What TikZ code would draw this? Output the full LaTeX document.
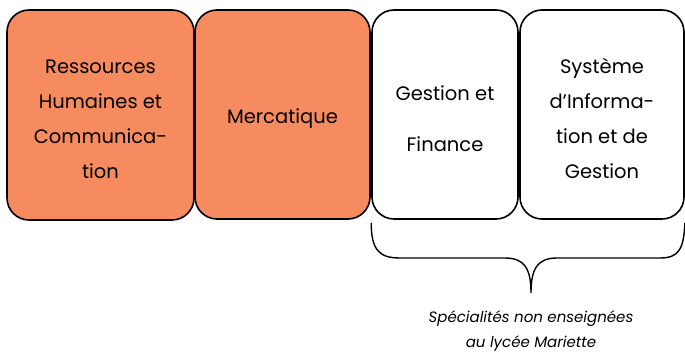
\documentclass[tikz,border=0pt]{standalone}
\usepackage{fontspec}
\setmainfont{Poppins}
\definecolor{specorange}{RGB}{246,139,95}
\tikzset{
  specbox/.style={draw, line width=1.6pt, rounded corners=22pt, inner sep=0pt,
    minimum height=209pt},
  spectext/.style={align=center, font=\fontsize{19.5}{35}\selectfont, yshift=-4pt},
}
\begin{document}
\begin{tikzpicture}[x=1pt,y=-1pt]
  \useasboundingbox (0,0) rectangle (685,352);
  % specialites
  \node[specbox, fill=specorange, minimum width=187pt, minimum height=210pt,
    label={[spectext]center:{Ressources\\Humaines et\\Communica-\\tion}}] (rhc) at (100.5,115) {};
  \node[specbox, fill=specorange, minimum width=175pt,
    label={[spectext]center:Mercatique}] (merc) at (282.5,114.5) {};
  \node[specbox, minimum width=146pt,
    label={[spectext]center:{Gestion et\\[16pt]Finance}}] (gf) at (445,114.5) {};
  \node[specbox, minimum width=164pt,
    label={[spectext]center:{Système\\d’Informa-\\tion et de\\Gestion}}] (sig) at (602,114.5) {};
  % accolade
  \coordinate (bl) at ([yshift=-3pt]gf.south west);
  \coordinate (br) at ([yshift=-3pt]sig.south east);
  \coordinate (tip) at (531,293);
  \draw[line width=1.4pt] (bl) .. controls ++(0,28) and (380,258) .. (400,258) -- (505,258)
    .. controls (524,258) and (531,268) .. (tip)
    .. controls (531,268) and (538,258) .. (557,258) -- (660,258)
    .. controls (678,258) and (684,250) .. (br);
  \node[align=center, font=\fontsize{15}{25}\selectfont\itshape] (note) at (531,331)
    {Spécialités non enseignées\\au lycée Mariette};
\end{tikzpicture}
\end{document}
